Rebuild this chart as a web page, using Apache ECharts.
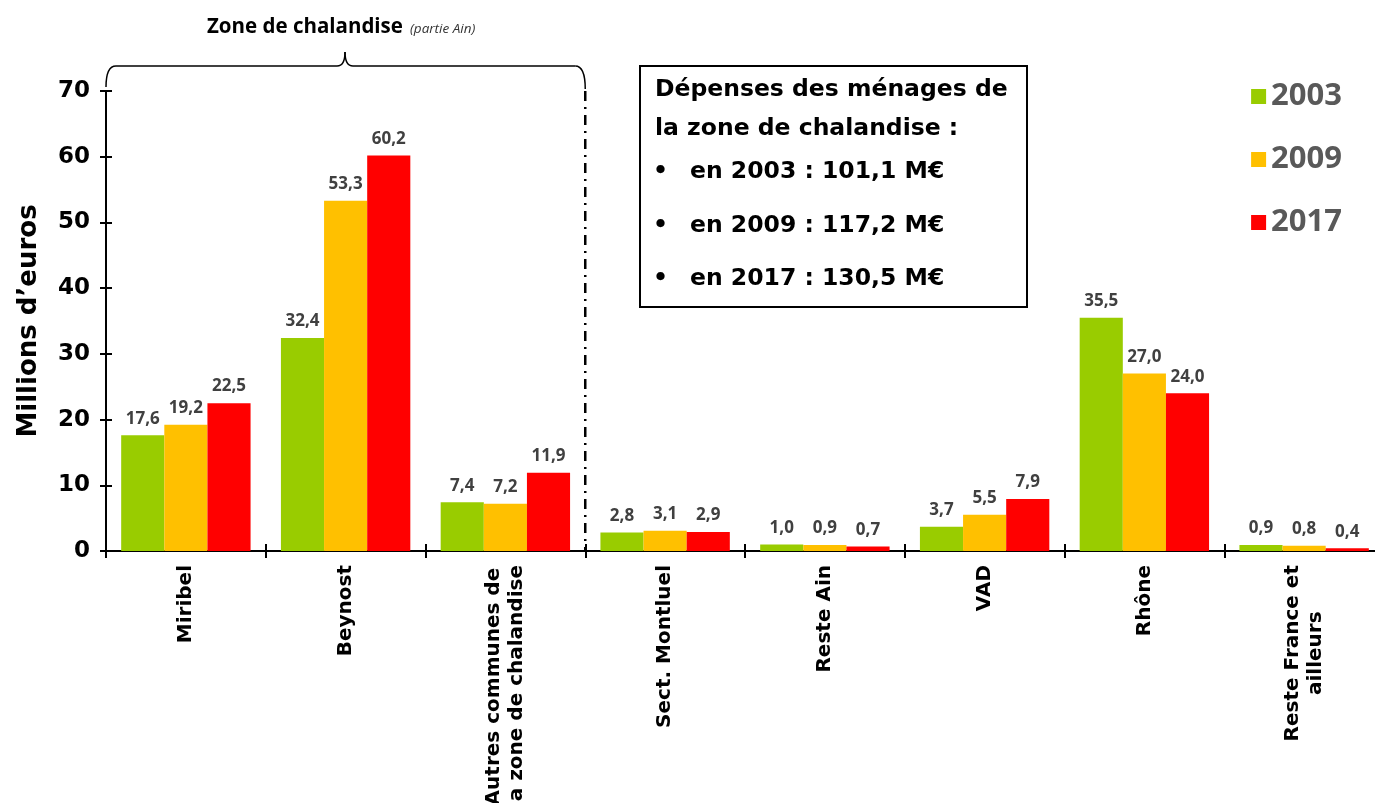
<!DOCTYPE html>
<html><head><meta charset="utf-8">
<script src="https://cdn.jsdelivr.net/npm/echarts@6/dist/echarts.min.js"></script>
<style>html,body{margin:0;padding:0;background:#fff}#c{width:1375px;height:803px}</style>
</head><body><div id="c"></div>
<script>
const categories = ['Miribel', 'Beynost', 'Autres communes de\nla zone de chalandise', 'Sect. Montluel', 'Reste Ain', 'VAD', 'Rhône', 'Reste France et\nailleurs'];
const years = ['2003', '2009', '2017'];
const v2003 = [17.6, 32.4, 7.4, 2.8, 1.0, 3.7, 35.5, 0.9];
const v2009 = [19.2, 53.3, 7.2, 3.1, 0.9, 5.5, 27.0, 0.8];
const v2017 = [22.5, 60.2, 11.9, 2.9, 0.7, 7.9, 24.0, 0.4];
const yTicks = [0, 10, 20, 30, 40, 50, 60, 70];
const boxLines = ['Dépenses des ménages de', 'la zone de chalandise :'];
const boxBullets = ['en 2003 : 101,1 M€', 'en 2009 : 117,2 M€', 'en 2017 : 130,5 M€'];
const colors = ['#99CC00', '#FFC000', '#FF0000'];

const chart = echarts.init(document.getElementById('c'));
const fmt = p => p.value.toFixed(1).replace('.', ',');
const mk = (name, data, color) => ({
  name, type: 'bar', data, xAxisIndex: 0, yAxisIndex: 0,
  itemStyle: {color},
  barGap: '0%', barCategoryGap: '19%',
  label: {show: true, position: 'top', distance: 8, formatter: fmt,
    fontFamily: 'Open Sans', fontWeight: 'bold', fontSize: 17, color: '#404040'}
});
const axisCommonY = {type: 'value', min: yTicks[0], max: yTicks[yTicks.length-1], interval: 10, position: 'left', splitLine: {show: false}};
chart.setOption({
  animation: false,
  grid: {left: 106, top: 91, width: 1278, height: 460, outerBoundsMode: 'none', containLabel: false},
  legend: {
    orient: 'vertical', right: 28, top: 76, itemGap: 32, itemWidth: 15, itemHeight: 15,
    icon: 'rect', data: years,
    textStyle: {fontFamily: 'Open Sans', fontWeight: 'bold', fontSize: 31, color: '#595959'}
  },
  xAxis: [
    {type: 'category', data: categories, position: 'bottom',
     axisLine: {lineStyle: {color: '#000', width: 2}},
     axisTick: {show: true, length: 7, lineStyle: {color: '#000', width: 2}},
     axisLabel: {rotate: 90, margin: 14, interval: 0, fontFamily: 'DejaVu Sans', fontWeight: 'bold', fontSize: 20, color: '#000', lineHeight: 23,
       formatter: v => v.split('\n').map(s => '{c|' + s + '}').join('\n'),
       rich: {c: {align: 'center', fontFamily: 'DejaVu Sans', fontWeight: 'bold', fontSize: 20, color: '#000', lineHeight: 23}}}},
    {type: 'category', data: categories, position: 'bottom',
     axisLine: {show: false}, axisLabel: {show: false},
     axisTick: {show: true, inside: true, length: 7, lineStyle: {color: '#000', width: 2}}}
  ],
  yAxis: [
    Object.assign({}, axisCommonY, {
      name: 'Millions d’euros', nameLocation: 'middle', nameGap: 64, nameRotate: 90,
      nameTextStyle: {fontFamily: 'DejaVu Sans', fontWeight: 'bold', fontSize: 26, color: '#000'},
      axisLine: {show: true, lineStyle: {color: '#000', width: 2}},
      axisTick: {show: true, length: 6, lineStyle: {color: '#000', width: 2}},
      axisLabel: {margin: 16, fontFamily: 'DejaVu Sans', fontWeight: 'bold', fontSize: 23, color: '#000'}}),
    Object.assign({}, axisCommonY, {
      axisLine: {show: false}, axisLabel: {show: false},
      axisTick: {show: true, inside: true, length: 6, lineStyle: {color: '#000', width: 2}}})
  ],
  series: [mk(years[0], v2003, colors[0]), mk(years[1], v2009, colors[1]), mk(years[2], v2017, colors[2])]
});

// annotations positioned from the axes
const x0 = chart.convertToPixel({xAxisIndex: 0}, categories[0]);
const x2 = chart.convertToPixel({xAxisIndex: 0}, categories[2]);
const x3 = chart.convertToPixel({xAxisIndex: 0}, categories[3]);
const band = x3 - x2;
const left = x0 - band / 2;
const sep = (x2 + x3) / 2;
const yTop = chart.convertToPixel({yAxisIndex: 0}, 70);
const yBase = chart.convertToPixel({yAxisIndex: 0}, 0);
const mid = 345;
const by = 66;
const boxX = 640, boxY = 66;
const bs = {fill: null, stroke: '#000', lineWidth: 1.5};
const txt = (x, y, text, extra) => ({type: 'text', x, y, style: Object.assign({text, fontFamily: 'DejaVu Sans', fontWeight: 'bold', fontSize: 23.5, fill: '#000', textVerticalAlign: 'middle'}, extra || {})});
chart.setOption({
  graphic: [
    {type: 'line', shape: {x1: sep, y1: yTop, x2: sep, y2: yBase}, style: {stroke: '#000', lineWidth: 2.5, lineDash: [10, 6, 2, 6]}},
    {type: 'bezierCurve', shape: {x1: left, y1: yTop - 4, cpx1: left, cpy1: by, x2: left + 10, y2: by}, style: bs},
    {type: 'line', shape: {x1: left + 10, y1: by, x2: mid - 8, y2: by}, style: bs},
    {type: 'bezierCurve', shape: {x1: mid - 8, y1: by, cpx1: mid, cpy1: by, x2: mid, y2: by - 14}, style: bs},
    {type: 'bezierCurve', shape: {x1: mid, y1: by - 14, cpx1: mid, cpy1: by, x2: mid + 8, y2: by}, style: bs},
    {type: 'line', shape: {x1: mid + 8, y1: by, x2: sep - 10, y2: by}, style: bs},
    {type: 'bezierCurve', shape: {x1: sep - 10, y1: by, cpx1: sep, cpy1: by, x2: sep, y2: yTop - 2}, style: bs},
    {type: 'text', x: 207, y: 27, style: {text: 'Zone de chalandise', fontFamily: 'Open Sans', fontWeight: 'bold', fontSize: 20.5, fill: '#000', textVerticalAlign: 'middle'}},
    {type: 'text', x: 410, y: 29, style: {text: '(partie Ain)', fontFamily: 'Open Sans', fontStyle: 'italic', fontSize: 13.5, fill: '#333', textVerticalAlign: 'middle'}},
    {type: 'rect', shape: {x: boxX, y: boxY, width: 387, height: 241}, style: {fill: '#fff', stroke: '#000', lineWidth: 2}},
    txt(655, 90, boxLines[0]),
    txt(655, 129, boxLines[1]),
    txt(653, 172, '•'), txt(690, 172, boxBullets[0]),
    txt(653, 226, '•'), txt(690, 226, boxBullets[1]),
    txt(653, 279, '•'), txt(690, 279, boxBullets[2])
  ]
});
</script></body></html>
